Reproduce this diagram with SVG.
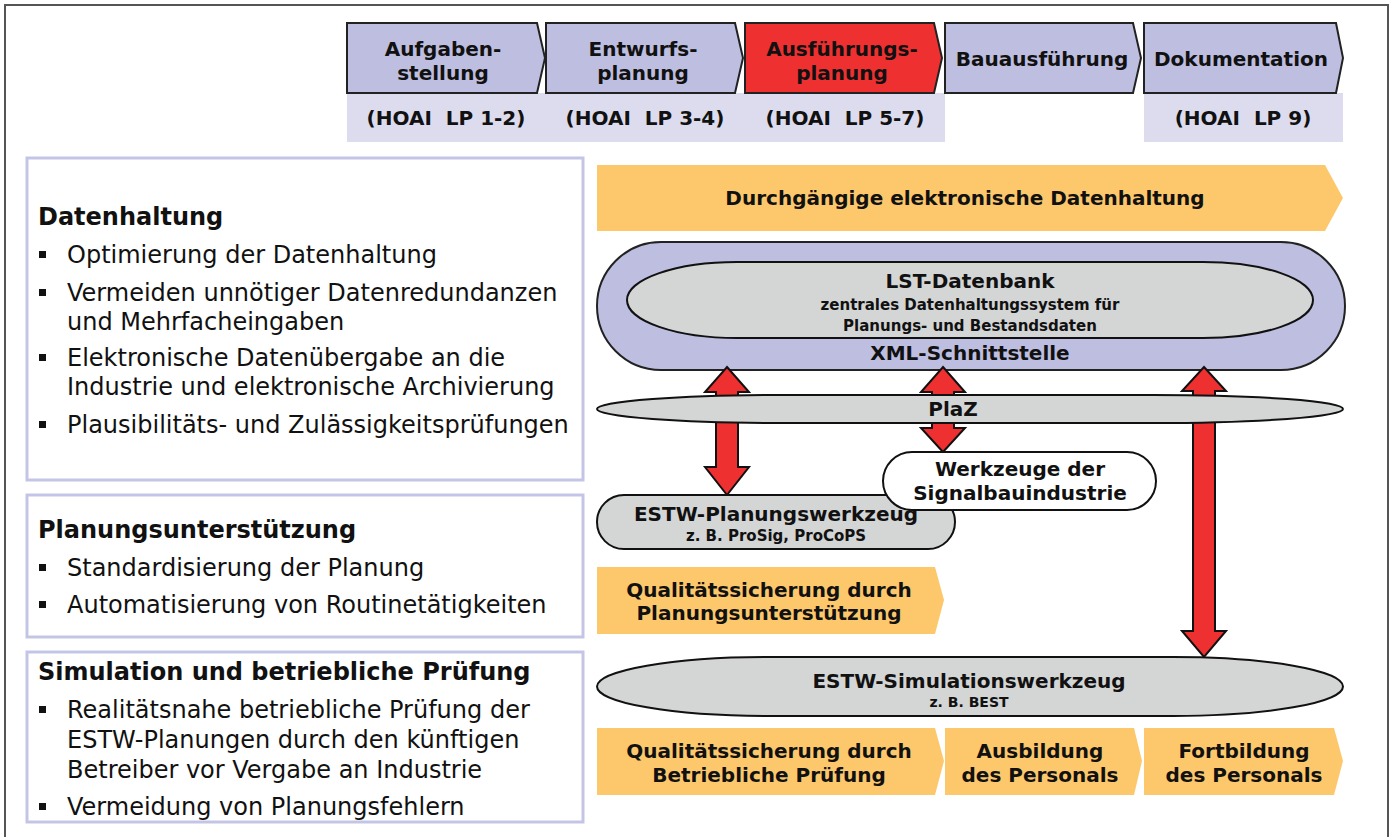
<svg xmlns="http://www.w3.org/2000/svg" width="1390" height="837" viewBox="0 0 1390 837">
<style>
text{font-family:"DejaVu Sans","Verdana",sans-serif;fill:#111}
.b{font-weight:bold}
.c{text-anchor:middle}
.lav{fill:#bdbee0;stroke:#222;stroke-width:2}
.red{fill:#ee3030;stroke:#222;stroke-width:2}
.band{fill:#dcdcee}
.org{fill:#fdc86c}
.gray{fill:#d4d5d5;stroke:#111;stroke-width:2}
.box{fill:#fff;stroke:#c4c5e6;stroke-width:3}
.arr{fill:#ee3030;stroke:#111;stroke-width:2;stroke-linejoin:miter}
.lt{font-size:24px}
.h{font-size:24px;font-weight:bold}
.bl{fill:#111}
.t{font-size:20px;font-weight:bold;text-anchor:middle}
</style>
<rect width="1390" height="837" fill="#fff"/>
<path d="M5,837 V5 H1388 V837" fill="none" stroke="#555" stroke-width="2"/>

<g id="phases">
  <rect class="band" x="347" y="93" width="598" height="49"/>
  <rect class="band" x="1144" y="93" width="199" height="49"/>
  <g id="p1"><polygon class="lav" points="347,23 537,23 545,58 537,93 347,93"/>
    <text class="t" x="443" y="56">Aufgaben-</text><text class="t" x="443" y="80">stellung</text>
    <text class="t" x="446" y="125" xml:space="preserve">(HOAI  LP 1-2)</text></g>
  <g id="p2"><polygon class="lav" points="546,23 735,23 743,58 735,93 546,93"/>
    <text class="t" x="643" y="56">Entwurfs-</text><text class="t" x="643" y="80">planung</text>
    <text class="t" x="645" y="125" xml:space="preserve">(HOAI  LP 3-4)</text></g>
  <g id="p3"><polygon class="red" points="745,23 934,23 942,58 934,93 745,93"/>
    <text class="t" x="842" y="56">Ausführungs-</text><text class="t" x="842" y="80">planung</text>
    <text class="t" x="845" y="125" xml:space="preserve">(HOAI  LP 5-7)</text></g>
  <g id="p4"><polygon class="lav" points="945,23 1133,23 1141,58 1133,93 945,93"/>
    <text class="t" x="1042" y="66">Bauausführung</text></g>
  <g id="p5"><polygon class="lav" points="1144,23 1336,23 1343,58 1336,93 1144,93"/>
    <text class="t" x="1241" y="66">Dokumentation</text>
    <text class="t" x="1243" y="125" xml:space="preserve">(HOAI  LP 9)</text></g>
</g>

<g id="box1">
  <rect class="box" x="27" y="158" width="556" height="322"/>
  <text class="h" x="38" y="225">Datenhaltung</text>
  <rect class="bl" x="39" y="251" width="7" height="7"/><text class="lt" x="67" y="263">Optimierung der Datenhaltung</text>
  <rect class="bl" x="39" y="289" width="7" height="7"/><text class="lt" x="67" y="301">Vermeiden unnötiger Datenredundanzen</text>
  <text class="lt" x="67" y="330">und Mehrfacheingaben</text>
  <rect class="bl" x="39" y="354" width="7" height="7"/><text class="lt" x="67" y="366">Elektronische Datenübergabe an die</text>
  <text class="lt" x="67" y="395">Industrie und elektronische Archivierung</text>
  <rect class="bl" x="39" y="421" width="7" height="7"/><text class="lt" x="67" y="433">Plausibilitäts- und Zulässigkeitsprüfungen</text>
</g>
<g id="box2">
  <rect class="box" x="27" y="495" width="556" height="142"/>
  <text class="h" x="38" y="538">Planungsunterstützung</text>
  <rect class="bl" x="39" y="564" width="7" height="7"/><text class="lt" x="67" y="576">Standardisierung der Planung</text>
  <rect class="bl" x="39" y="601" width="7" height="7"/><text class="lt" x="67" y="613">Automatisierung von Routinetätigkeiten</text>
</g>
<g id="box3">
  <rect class="box" x="27" y="652" width="556" height="170"/>
  <text class="h" x="38" y="680">Simulation und betriebliche Prüfung</text>
  <rect class="bl" x="39" y="706" width="7" height="7"/><text class="lt" x="67" y="718">Realitätsnahe betriebliche Prüfung der</text>
  <text class="lt" x="67" y="748">ESTW-Planungen durch den künftigen</text>
  <text class="lt" x="67" y="778">Betreiber vor Vergabe an Industrie</text>
  <rect class="bl" x="39" y="803" width="7" height="7"/><text class="lt" x="67" y="815">Vermeidung von Planungsfehlern</text>
</g>

<g id="banner">
  <polygon class="org" points="597,165 1325,165 1343,198 1325,231 597,231"/>
  <text class="t" x="965" y="205">Durchgängige elektronische Datenhaltung</text>
</g>

<g id="lst">
  <rect class="lav" x="597" y="242" width="748" height="128" rx="64" ry="64"/>
  <rect class="gray" x="627" y="262" width="686" height="76" rx="110" ry="38"/>
  <text class="t" x="970" y="288" font-size="21">LST-Datenbank</text>
  <text class="b c" x="970" y="310" font-size="15">zentrales Datenhaltungssystem für</text>
  <text class="b c" x="970" y="331" font-size="15">Planungs- und Bestandsdaten</text>
  <text class="t" x="970" y="360">XML-Schnittstelle</text>
</g>

<g id="connectors">
  <polygon class="arr" points="727,367 749,392 738,392 738,467 749,467 727,495 705,467 716,467 716,392 705,392"/>
  <polygon class="arr" points="943,367 965,392 954,392 954,428 965,428 943,452 921,428 932,428 932,392 921,392"/>
  <polygon class="arr" points="1204,367 1226,391 1215,391 1215,631 1226,631 1204,657 1182,631 1193,631 1193,391 1182,391"/>
</g>

<g id="plaz">
  <rect class="gray" x="597" y="395" width="746" height="28" rx="190" ry="14"/>
  <text class="t" x="953" y="416" font-size="19">PlaZ</text>
</g>

<g id="estw-plan">
  <rect class="gray" x="597" y="495" width="358" height="54" rx="27" ry="27"/>
  <text class="t" x="776" y="521">ESTW-Planungswerkzeug</text>
  <text class="b c" x="776" y="541" font-size="15">z. B. ProSig, ProCoPS</text>
</g>

<g id="werkzeuge">
  <rect x="883" y="452" width="273" height="58" rx="29" ry="29" fill="#fff" stroke="#111" stroke-width="2"/>
  <text class="t" x="1020" y="476">Werkzeuge der</text>
  <text class="t" x="1020" y="500">Signalbauindustrie</text>
</g>

<g id="qs-plan">
  <polygon class="org" points="597,567 935,567 944,600 935,634 597,634"/>
  <text class="t" x="769" y="597">Qualitätssicherung durch</text>
  <text class="t" x="769" y="620">Planungsunterstützung</text>
</g>

<g id="estw-sim">
  <rect class="gray" x="597" y="657" width="746" height="59" rx="170" ry="29.5"/>
  <text class="t" x="969" y="688">ESTW-Simulationswerkzeug</text>
  <text class="b c" x="969" y="707" font-size="14">z. B. BEST</text>
</g>

<g id="bottom">
  <g id="qs-pruef"><polygon class="org" points="597,728 935,728 944,761 935,795 597,795"/>
    <text class="t" x="769" y="758">Qualitätssicherung durch</text>
    <text class="t" x="769" y="782">Betriebliche Prüfung</text></g>
  <g id="ausb"><polygon class="org" points="945,728 1134,728 1142,761 1134,795 945,795"/>
    <text class="t" x="1040" y="758" font-size="19.5">Ausbildung</text>
    <text class="t" x="1040" y="782" font-size="19.5">des Personals</text></g>
  <g id="fortb"><polygon class="org" points="1144,728 1334,728 1343,761 1334,795 1144,795"/>
    <text class="t" x="1244" y="758" font-size="19.5">Fortbildung</text>
    <text class="t" x="1244" y="782" font-size="19.5">des Personals</text></g>
</g>
</svg>
